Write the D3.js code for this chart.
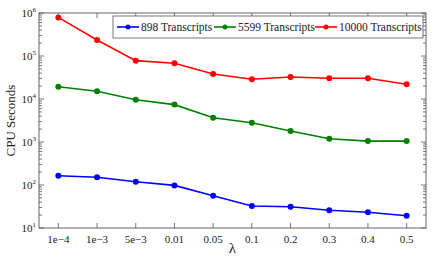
<!DOCTYPE html>
<html><head><meta charset="utf-8">
<script src="https://cdn.jsdelivr.net/npm/d3@7"></script>
<style>body{margin:0;background:#fff}svg{display:block}text{font-family:"Liberation Serif","Times New Roman",serif;fill:#222}</style>
</head><body><svg id="c" width="434" height="257"></svg>
<script>
const categories = ["1e\u22124","1e\u22123","5e\u22123","0.01","0.05","0.1","0.2","0.3","0.4","0.5"];
const s898 = [164,151,119,98,56,32.5,31.3,25.8,23.2,19.3];
const s5599 = [19300,15100,9600,7400,3670,2810,1800,1190,1050,1050];
const s10000 = [790000,236000,78000,68000,38000,28700,32500,30300,30300,22000];
const seriesNames = ["898 Transcripts","5599 Transcripts","10000 Transcripts"];
const seriesColors = ["#0000ff","#008000","#ff0000"];
const yTicks = [10,100,1000,10000,100000,1000000];
const series = [s898,s5599,s10000];

const svg = d3.select("#c");
const L=39,R=426,T=13,B=228;
const x = d3.scalePoint().domain(categories).range([L,R]).padding(0.5);
const y = d3.scaleLog().domain([10,1e6]).range([B,T]);
const axc="#555";

// minor ticks
const minors=[];
for(let d=10; d<1e6; d*=10) for(let k=2;k<10;k++) minors.push(d*k);
const g=svg.append("g");
minors.forEach(v=>{
  g.append("line").attr("x1",L).attr("x2",L+3).attr("y1",y(v)).attr("y2",y(v)).attr("stroke",axc).attr("stroke-width",0.8);
  g.append("line").attr("x1",R).attr("x2",R-3).attr("y1",y(v)).attr("y2",y(v)).attr("stroke",axc).attr("stroke-width",0.8);
});
yTicks.forEach(v=>{
  g.append("line").attr("x1",L).attr("x2",L+5).attr("y1",y(v)).attr("y2",y(v)).attr("stroke",axc).attr("stroke-width",0.8);
  g.append("line").attr("x1",R).attr("x2",R-5).attr("y1",y(v)).attr("y2",y(v)).attr("stroke",axc).attr("stroke-width",0.8);
  const t=g.append("text").attr("x",L-3).attr("y",y(v)+4).attr("text-anchor","end").attr("font-size",11);
  t.append("tspan").text("10");
  t.append("tspan").attr("dy",-5).attr("font-size",7).text(Math.round(Math.log10(v)));
});
categories.forEach(c=>{
  g.append("line").attr("x1",x(c)).attr("x2",x(c)).attr("y1",B).attr("y2",B-5).attr("stroke",axc).attr("stroke-width",0.8);
  g.append("line").attr("x1",x(c)).attr("x2",x(c)).attr("y1",T).attr("y2",T+5).attr("stroke",axc).attr("stroke-width",0.8);
  g.append("text").attr("x",x(c)).attr("y",B+15).attr("text-anchor","middle").attr("font-size",11).text(c);
});
g.append("rect").attr("x",L).attr("y",T).attr("width",R-L).attr("height",B-T).attr("fill","none").attr("stroke",axc).attr("stroke-width",0.9);

svg.append("text").attr("transform",`translate(15,${(T+B)/2}) rotate(-90)`).attr("text-anchor","middle").attr("font-size",13).text("CPU Seconds");
svg.append("text").attr("x",(L+R)/2).attr("y",253).attr("text-anchor","middle").attr("font-size",15).text("\u03bb");

const line=d3.line().x((d,i)=>x(categories[i])).y(d=>y(d));
series.forEach((s,j)=>{
  svg.append("path").attr("d",line(s)).attr("fill","none").attr("stroke",seriesColors[j]).attr("stroke-width",1.6);
  svg.selectAll(null).data(s).enter().append("circle").attr("cx",(d,i)=>x(categories[i])).attr("cy",d=>y(d)).attr("r",3).attr("fill",seriesColors[j]);
});

// legend
const lg=svg.append("g");
lg.append("rect").attr("x",113).attr("y",16).attr("width",310).attr("height",22).attr("fill","#fff").attr("stroke",axc).attr("stroke-width",0.8);
const lx=[117,214,315];
seriesNames.forEach((n,j)=>{
  const cy=27;
  lg.append("line").attr("x1",lx[j]).attr("x2",lx[j]+22).attr("y1",cy).attr("y2",cy).attr("stroke",seriesColors[j]).attr("stroke-width",1.6);
  lg.append("circle").attr("cx",lx[j]+11).attr("cy",cy).attr("r",2.5).attr("fill",seriesColors[j]);
  lg.append("text").attr("x",lx[j]+24).attr("y",cy+4).attr("font-size",11.5).text(n);
});
</script></body></html>
